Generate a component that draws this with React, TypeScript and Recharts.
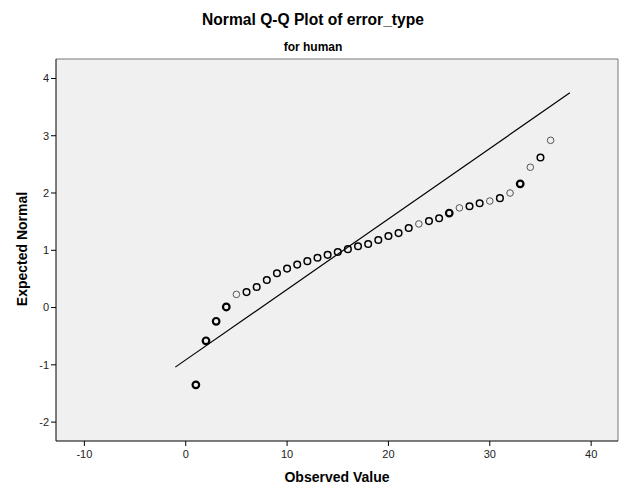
import { CartesianGrid, ReferenceLine, Scatter, ScatterChart, XAxis, YAxis } from "recharts";

// observed values (x) and their expected normal scores (y)
const observed = [1, 2, 3, 4, 5, 6, 7, 8, 9, 10, 11, 12, 13, 14, 15, 16, 17, 18, 19, 20, 21, 22, 23, 24, 25, 26, 27, 28, 29, 30, 31, 32, 33, 34, 35, 36];
const expected = [-1.35, -0.58, -0.24, 0.01, 0.23, 0.27, 0.36, 0.48, 0.6, 0.68, 0.75, 0.81, 0.87, 0.92, 0.97, 1.02, 1.07, 1.11, 1.18, 1.25, 1.3, 1.39, 1.46, 1.51, 1.56, 1.65, 1.74, 1.77, 1.82, 1.86, 1.91, 2.0, 2.16, 2.45, 2.62, 2.92];
// how heavy each marker looks (ties stacked on top of each other)
const weight = [3, 3, 3, 3, 1, 2, 2, 2, 2, 2, 2, 2, 2, 2, 2, 2, 2, 2, 2, 2, 2, 2, 1, 2, 2, 3, 1, 2, 2, 1, 2, 1, 3, 1, 2, 1];
// reference line end points
const lineX = [-1.03, 37.9];
const lineY = [-1.04, 3.75];
const xTicks = [-10, 0, 10, 20, 30, 40];
const yTicks = [-2, -1, 0, 1, 2, 3, 4];

const points = observed.map((x, i) => ({ x, y: expected[i], w: weight[i] }));
const font = "Arial, 'Liberation Sans', sans-serif";

const Ring = (p: any) => {
  const w = p.payload.w;
  const stroke = w === 1 ? "#555" : "#000";
  const sw = w === 1 ? 1 : w === 2 ? 1.5 : 2.2;
  return <circle cx={p.cx} cy={p.cy} r={3.3} fill="none" stroke={stroke} strokeWidth={sw} />;
};

export default function App() {
  return (
    <div style={{ position: "absolute", left: 0, top: 0, width: 626, height: 501, background: "#fff", fontFamily: font }}>
      <div style={{ position: "absolute", left: 0, width: 626, top: 11, textAlign: "center", fontSize: 15.6, fontWeight: "bold" }}>
        Normal Q-Q Plot of error_type
      </div>
      <div style={{ position: "absolute", left: 0, width: 626, top: 40, textAlign: "center", fontSize: 12, fontWeight: "bold" }}>
        for human
      </div>
      <ScatterChart width={626} height={501} margin={{ top: 59, right: 8, bottom: 0, left: 0 }}>
        <CartesianGrid fill="#f0f0f0" horizontal={false} vertical={false} />
        <XAxis type="number" dataKey="x" domain={[-12.8, 42.65]} ticks={xTicks} allowDataOverflow height={60}
          stroke="#000" tickSize={5} tickMargin={4} tick={{ fontSize: 11, fill: "#222", fontFamily: font }} />
        <YAxis type="number" dataKey="y" domain={[-2.33, 4.34]} ticks={yTicks} allowDataOverflow width={56}
          stroke="#000" tickSize={5} tickMargin={2} tick={{ fontSize: 11, fill: "#222", fontFamily: font }} />
        <ReferenceLine y={4.34} stroke="#777" />
        <ReferenceLine x={42.65} stroke="#777" />
        <ReferenceLine segment={[{ x: lineX[0], y: lineY[0] }, { x: lineX[1], y: lineY[1] }]} stroke="#000" strokeWidth={1.2} />
        <Scatter data={points} shape={Ring} isAnimationActive={false} />
      </ScatterChart>
      <div style={{ position: "absolute", left: 56, width: 562, top: 469, textAlign: "center", fontSize: 14, fontWeight: "bold" }}>
        Observed Value
      </div>
      <div style={{ position: "absolute", left: 22, top: 250, width: 0, height: 0 }}>
        <div style={{ position: "absolute", left: -100, top: -9, width: 200, textAlign: "center", fontSize: 14, fontWeight: "bold", transform: "rotate(-90deg)", whiteSpace: "nowrap" }}>
          Expected Normal
        </div>
      </div>
    </div>
  );
}
